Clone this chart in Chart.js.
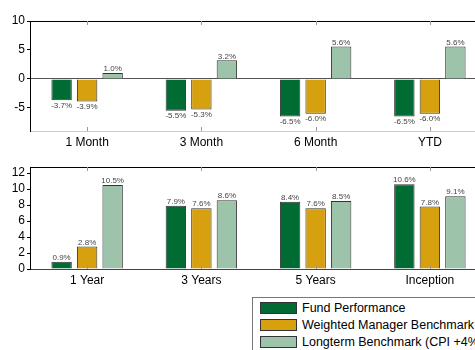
<!DOCTYPE html>
<html>
<head>
<meta charset="utf-8">
<script src="https://cdn.jsdelivr.net/npm/chart.js@4"></script>
<style>
    html, body { margin: 0; padding: 0; background: #fff; }
    #page { position: relative; width: 475px; height: 350px; overflow: hidden; font-family: "Liberation Sans", Arial, sans-serif; }
    #topChart { position: absolute; left: 0; top: 0; }
    #bottomChart { position: absolute; left: 0; top: 146px; }
    #legend { position: absolute; left: 252px; top: 297px; width: 240px; height: 60px; border: 1px solid #777; box-sizing: border-box; background: #fff; }
    #legend .row { position: absolute; left: 7px; height: 13px; font-size: 12.5px; line-height: 13px; color: #000; white-space: nowrap; }
    #legend .sw { display: inline-block; width: 37px; height: 12px; border: 1px solid #333; box-sizing: border-box; vertical-align: top; margin-right: 5px; }
</style>
</head>
<body>
<div id="page">
    <canvas id="topChart" width="490" height="146"></canvas>
    <canvas id="bottomChart" width="490" height="146"></canvas>
    <div id="legend"></div>
</div>
<script>
const seriesNames = ["Fund Performance", "Weighted Manager Benchmark", "Longterm Benchmark (CPI +4%)"];
const seriesColors = ["#006B33", "#D6A00F", "#9DC4AA"];

// top panel: short periods
const shortPeriods = ["1 Month", "3 Month", "6 Month", "YTD"];
const shortFund = [-3.7, -5.5, -6.5, -6.5];
const shortWeighted = [-3.9, -5.3, -6.0, -6.0];
const shortLongterm = [1.0, 3.2, 5.6, 5.6];
const shortTicks = [-5, 0, 5, 10];

// bottom panel: long periods
const longPeriods = ["1 Year", "3 Years", "5 Years", "Inception"];
const longFund = [0.9, 7.9, 8.4, 10.6];
const longWeighted = [2.8, 7.6, 7.6, 7.8];
const longLongterm = [10.5, 8.6, 8.5, 9.1];
const longTicks = [0, 2, 4, 6, 8, 10, 12];

Chart.defaults.font.family = '"Liberation Sans", Arial, sans-serif';
Chart.defaults.color = "#000";

const barLabels = {
    id: "barLabels",
    afterDatasetsDraw(chart) {
        const ctx = chart.ctx;
        ctx.save();
        ctx.font = '8px "Liberation Sans", Arial, sans-serif';
        ctx.fillStyle = "#444";
        ctx.textAlign = "center";
        chart.data.datasets.forEach((ds, i) => {
            chart.getDatasetMeta(i).data.forEach((bar, j) => {
                const v = ds.data[j];
                const txt = v.toFixed(1) + "%";
                if (v >= 0) {
                    ctx.textBaseline = "bottom";
                    ctx.fillText(txt, bar.x, bar.y);
                } else {
                    ctx.textBaseline = "top";
                    ctx.fillText(txt, bar.x, bar.y + 1);
                }
            });
        });
        ctx.restore();
    }
};

// top border line and small inward ticks at the category centres
const frame = {
    id: "frame",
    afterDraw(chart) {
        const { ctx, chartArea: a, scales: { x } } = chart;
        ctx.save();
        ctx.lineWidth = 1;
        ctx.strokeStyle = "#000";
        ctx.beginPath();
        ctx.moveTo(a.left, Math.round(a.top) + 0.5);
        ctx.lineTo(a.right, Math.round(a.top) + 0.5);
        ctx.stroke();
        ctx.strokeStyle = "#999";
        x.ticks.forEach((t, i) => {
            const px = Math.round(x.getPixelForTick(i)) + 0.5;
            ctx.beginPath();
            ctx.moveTo(px, a.top);
            ctx.lineTo(px, a.top + 4);
            ctx.moveTo(px, a.bottom);
            ctx.lineTo(px, a.bottom - 4);
            ctx.stroke();
        });
        ctx.restore();
    }
};

function makeChart(id, labels, series, yMin, yMax, yTicks, bottomColor, xHeight) {
    return new Chart(document.getElementById(id), {
        type: "bar",
        data: {
            labels: labels,
            datasets: series.map((data, i) => ({
                label: seriesNames[i],
                data: data,
                backgroundColor: seriesColors[i],
                borderColor: "#333",
                borderWidth: 1,
                categoryPercentage: 0.67,
                barPercentage: 0.8
            }))
        },
        options: {
            responsive: false,
            animation: false,
            layout: { padding: { top: 21, right: 3, left: 0, bottom: 0 } },
            plugins: { legend: { display: false }, tooltip: { enabled: false } },
            scales: {
                x: {
                    afterFit: (s) => { s.height = xHeight; },
                    border: { color: bottomColor, width: 1 },
                    grid: { drawOnChartArea: false, drawTicks: false },
                    ticks: { font: { size: 12 }, padding: 4, color: "#000" }
                },
                y: {
                    min: yMin,
                    max: yMax,
                    afterFit: (s) => { s.width = 30; },
                    afterBuildTicks: (s) => { s.ticks = yTicks.map(v => ({ value: v })); },
                    border: { color: "#000", width: 1 },
                    grid: {
                        color: (c) => (c.tick && c.tick.value === 0) ? "#555" : "rgba(0,0,0,0)",
                        tickColor: "#000",
                        tickLength: 3
                    },
                    ticks: { font: { size: 12 }, padding: 2, color: "#000", autoSkip: false }
                }
            }
        },
        plugins: [barLabels, frame]
    });
}

makeChart("topChart", shortPeriods, [shortFund, shortWeighted, shortLongterm], -9, 10, shortTicks, "#ccc", 15);
makeChart("bottomChart", longPeriods, [longFund, longWeighted, longLongterm], 0, 12.75, longTicks, "#444", 23);

const legend = document.getElementById("legend");
seriesNames.forEach((name, i) => {
    const row = document.createElement("div");
    row.className = "row";
    row.style.top = (4 + i * 17) + "px";
    row.innerHTML = `<span class="sw" style="background:${seriesColors[i]}"></span>${name}`;
    legend.append(row);
});
</script>
</body>
</html>
